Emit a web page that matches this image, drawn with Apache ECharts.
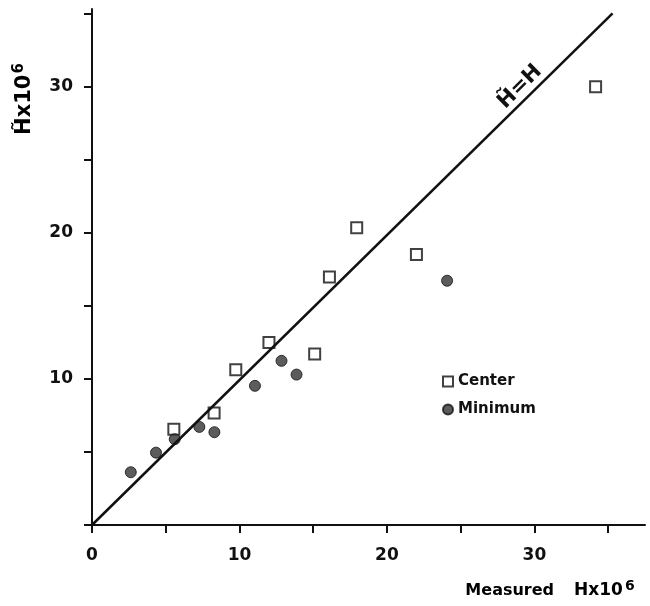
<!DOCTYPE html>
<html><head><meta charset="utf-8">
<script src="https://cdn.jsdelivr.net/npm/echarts@6/dist/echarts.min.js"></script>
<style>html,body{margin:0;padding:0;background:#fff}#c{width:650px;height:606px}</style>
</head><body><div id="c"></div>
<script>
const centerX = [5.55, 8.28, 9.75, 12.0, 15.1, 16.1, 17.95, 22.0, 34.15];
const centerY = [6.55, 7.67, 10.62, 12.49, 11.69, 16.97, 20.34, 18.51, 29.98];
const minimumX = [2.63, 4.34, 5.61, 7.28, 8.3, 11.05, 12.85, 13.87, 24.08];
const minimumY = [3.61, 4.95, 5.87, 6.71, 6.35, 9.52, 11.23, 10.29, 16.71];
const lineX = [0, 35.3];
const lineY = [0, 35.0];
const xTickLabels = ['0', '10', '20', '30'];
const yTickLabels = ['10', '20', '30'];

const font = '"DejaVu Sans", "Liberation Sans", Arial, sans-serif';
const chart = echarts.init(document.getElementById('c'));
chart.setOption({
  animation: false,
  backgroundColor: '#fff',
  grid: {left: 92, right: 5, top: 9, bottom: 81, containLabel: false},
  xAxis: {
    type: 'value', min: 0, max: 37.5, interval: 5,
    splitLine: {show: false},
    axisLine: {lineStyle: {color: '#111', width: 2}},
    axisTick: {length: 8, lineStyle: {color: '#111', width: 2}},
    axisLabel: {margin: 22, color: '#111', fontSize: 17, fontWeight: 'bold', fontFamily: font,
      formatter: v => xTickLabels.includes(String(v)) ? String(v) : '', showMaxLabel: false}
  },
  yAxis: {
    type: 'value', min: 0, max: 35.3, interval: 5,
    splitLine: {show: false},
    axisLine: {lineStyle: {color: '#111', width: 2}},
    axisTick: {length: 8, lineStyle: {color: '#111', width: 2}},
    axisLabel: {margin: 19, color: '#111', fontSize: 17, fontWeight: 'bold', fontFamily: font,
      formatter: v => yTickLabels.includes(String(v)) ? String(v) : '', showMaxLabel: false}
  },
  legend: {
    orient: 'vertical', left: 437, top: 369, itemGap: 13, itemWidth: 10, itemHeight: 10,
    textStyle: {color: '#111', fontSize: 15, fontWeight: 'bold', fontFamily: font, padding: [0, 0, 3, 0]},
    data: [{name: 'Center', icon: 'rect'}, {name: 'Minimum', icon: 'circle'}]
  },
  series: [
    {type: 'line', name: 'H=H', data: lineX.map((x, i) => [x, lineY[i]]), symbol: 'none',
      lineStyle: {color: '#111', width: 2.5}, silent: true},
    {type: 'scatter', name: 'Center', data: centerX.map((x, i) => [x, centerY[i]]),
      symbol: 'rect', symbolSize: 11,
      itemStyle: {color: '#fff', borderColor: '#111', borderWidth: 2}},
    {type: 'scatter', name: 'Minimum', data: minimumX.map((x, i) => [x, minimumY[i]]),
      symbol: 'circle', symbolSize: 11,
      itemStyle: {color: '#333', borderColor: '#111', borderWidth: 1}}
  ]
});
const p = chart.convertToPixel({gridIndex: 0}, [29.5, 29.5]);
chart.setOption({
  graphic: [
    {type: 'text', x: p[0] - 7, y: p[1] - 7, rotation: Math.PI / 4, origin: [0, 0],
      style: {text: 'H\u0303=H', font: 'bold 21px ' + font, fill: '#111', align: 'center', verticalAlign: 'middle'}},
    {type: 'text', x: 25, y: 99, rotation: Math.PI / 2,
      style: {text: '{a|H\u0303x10}{s|6}', align: 'center', verticalAlign: 'middle',
        rich: {a: {fontWeight: 'bold', fontSize: 21, fontFamily: font, color: '#111'},
               s: {fontWeight: 'bold', fontSize: 15, fontFamily: font, color: '#111', verticalAlign: 'bottom', padding: [0, 0, 12, 1]}}}},
    {type: 'text', x: 550, y: 591,
      style: {text: '{a|Measured}{b|Hx10}{s|6}', align: 'center', verticalAlign: 'middle',
        rich: {a: {fontWeight: 'bold', fontSize: 16, fontFamily: font, color: '#111', padding: [0, 20, 0, 0]},
               b: {fontWeight: 'bold', fontSize: 17, fontFamily: font, color: '#111'},
               s: {fontWeight: 'bold', fontSize: 14, fontFamily: font, color: '#111', verticalAlign: 'bottom', padding: [0, 0, 10, 2]}}}}
  ]
});
</script></body></html>
